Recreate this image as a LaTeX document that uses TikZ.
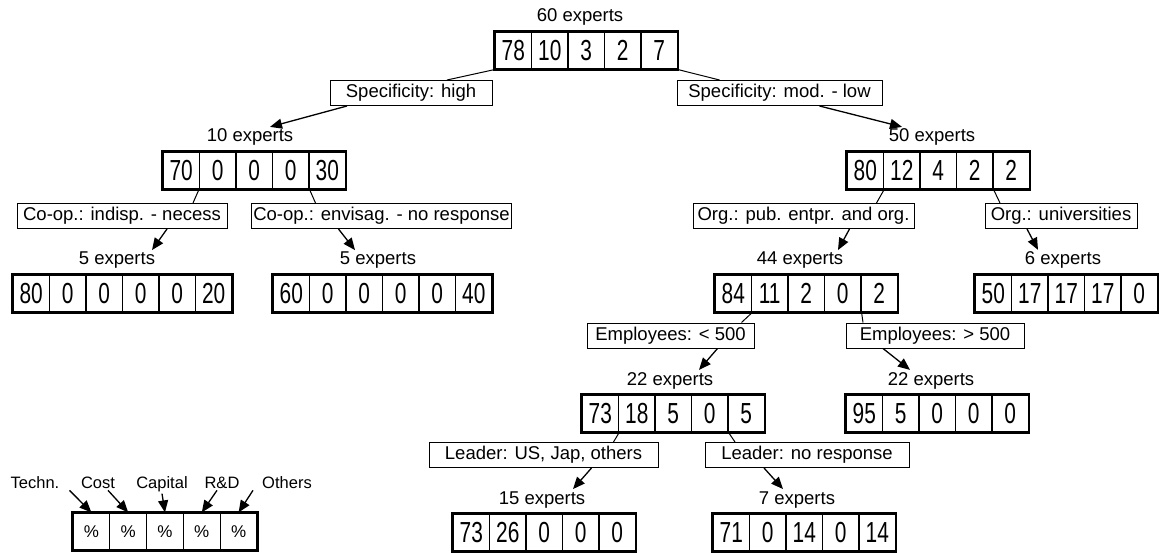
\documentclass[tikz,border=0pt]{standalone}
\usepackage{fontspec}
\setmainfont{Liberation Sans}
\usepackage{graphicx}
\usetikzlibrary{arrows.meta}

\newcommand\labfont{\fontsize{18.5}{20}\selectfont}
\newcommand\legfont{\fontsize{16.5}{18}\selectfont}
\newcommand\cellfont{\fontsize{29}{30}\selectfont}
\newcommand\cnum[1]{\scalebox{0.72}[1]{#1}}

\tikzset{
  pctcell/.style={draw, line width=1.2pt, minimum width=36.5pt, minimum height=37pt, inner sep=0pt, font=\cellfont},
  boxrim/.style={line width=2.4pt},
  headcount/.style={font=\labfont, anchor=base, inner sep=2pt},
  keylab/.style={font=\legfont, anchor=base, inner sep=2pt},
  critbox/.style={draw, line width=1pt, minimum height=25pt, inner sep=2pt, font=\labfont},
  stem/.style={line width=1pt},
  pointer/.style={line width=1.3pt, -{Triangle[length=12pt,width=10pt]}}
}

\begin{document}
\begin{tikzpicture}[x=1pt,y=-1pt]
\useasboundingbox (0,0) rectangle (1161,553);

% percentage boxes
\foreach \nm/\lx/\ty/\n/\vals in {b0/495/32/5/{78,10,3,2,7}, b1/163/152/5/{70,0,0,0,30},
    b2/847/152/5/{80,12,4,2,2}, b3/13/275/6/{80,0,0,0,0,20}, b4/273/275/6/{60,0,0,0,0,40},
    b5/715/275/5/{84,11,2,0,2}, b6/975/275/5/{50,17,17,17,0}, b7/582/395/5/{73,18,5,0,5},
    b8/846/395/5/{95,5,0,0,0}, b9/453/514/5/{73,26,0,0,0}, b10/713/514/5/{71,0,14,0,14}}{
  \foreach \v [count=\i] in \vals
    \node[pctcell] (\nm-\i) at ({\lx+36.5*\i-18.25},{\ty+18.5}) {\cnum{\v}};
  \draw[boxrim] (\nm-1.north west) rectangle (\nm-\n.south east);
}

% group sizes
\node[headcount] (c0) at (580,22) {60 experts};
\node[headcount] (c1) at (250,142) {10 experts};
\node[headcount] (c2) at (932,142) {50 experts};
\node[headcount] (c3) at (117,265) {5 experts};
\node[headcount] (c4) at (378,265) {5 experts};
\node[headcount] (c5) at (800,265) {44 experts};
\node[headcount] (c6) at (1063,265) {6 experts};
\node[headcount] (c7) at (670,385) {22 experts};
\node[headcount] (c8) at (931,385) {22 experts};
\node[headcount] (c9) at (542,504) {15 experts};
\node[headcount] (c10) at (797,504) {7 experts};

% split criteria
\node[critbox, minimum width=162pt] (spechigh) at (411,93) {Specificity: high};
\node[critbox, minimum width=205pt] (speclow) at (779.5,93) {Specificity: mod. - low};
\node[critbox, minimum width=210pt] (coopnec) at (122,216) {Co-op.: indisp. - necess};
\node[critbox, minimum width=259pt] (coopenv) at (381.5,216) {Co-op.: envisag. - no response};
\node[critbox, minimum width=221pt] (orgpub) at (803.5,216) {Org.: pub. entpr. and org.};
\node[critbox, minimum width=152pt] (orguni) at (1061,216) {Org.: universities};
\node[critbox, minimum width=167pt] (empsmall) at (670.5,335.5) {Employees: < 500};
\node[critbox, minimum width=178pt] (empbig) at (935,335.5) {Employees: > 500};
\node[critbox, minimum width=229pt] (leadyes) at (543.5,455) {Leader: US, Jap, others};
\node[critbox, minimum width=204pt] (leadno) at (807,455) {Leader: no response};

\draw[stem] (b0-1.south west) -- ([xshift=36pt]spechigh.north);
\draw[pointer] ([xshift=-64pt]spechigh.south) -- ([xshift=20pt]c1.north);
\draw[stem] (b0-5.south east) -- ([xshift=-60pt]speclow.north);
\draw[pointer] ([xshift=40pt]speclow.south) -- ([xshift=-30pt]c2.north);

\draw[stem] (b1-2.south west) -- ([xshift=71pt]coopnec.north);
\draw[pointer] ([xshift=45pt]coopnec.south) -- ([xshift=35pt]c3.north);
\draw[stem] (b1-4.south east) -- ([xshift=-66pt]coopenv.north);
\draw[pointer] ([xshift=-43pt]coopenv.south) -- ([xshift=-23pt]c4.north);

\draw[stem] (b2-1.south east) -- ([xshift=73pt]orgpub.north);
\draw[pointer] ([xshift=46pt]orgpub.south) -- ([xshift=38pt]c5.north);
\draw[stem] (b2-4.south east) -- ([xshift=-61pt]orguni.north);
\draw[pointer] ([xshift=-34pt]orguni.south) -- ([xshift=-25pt]c6.north);

\draw[stem] (b5-1.south east) -- ([xshift=71pt]empsmall.north);
\draw[pointer] ([xshift=47pt]empsmall.south) -- ([xshift=29pt]c7.north);
\draw[stem] (b5-4.south east) -- ([xshift=-72pt]empbig.north);
\draw[pointer] ([xshift=-52pt]empbig.south) -- ([xshift=-21pt]c8.north);

\draw[stem] (b7-1.south east) -- ([xshift=70pt]leadyes.north);
\draw[pointer] ([xshift=48pt]leadyes.south) -- ([xshift=31pt]c9.north);
\draw[stem] (b7-4.south east) -- ([xshift=-72pt]leadno.north);
\draw[pointer] ([xshift=-43pt]leadno.south) -- ([xshift=-14pt]c10.north);

% key
\foreach \i in {1,...,5}
  \node[pctcell, minimum width=36.8pt, font=\fontsize{17}{18}\selectfont] (key-\i) at ({73+36.8*\i-18.4},531.5) {\%};
\draw[boxrim] (key-1.north west) rectangle (key-5.south east);

\node[keylab] (techn) at (35,488) {Techn.};
\node[keylab] (cost) at (98,488) {Cost};
\node[keylab] (capital) at (162,488) {Capital};
\node[keylab] (rnd) at (222,488) {R\&D};
\node[keylab] (others) at (287,488) {Others};

\draw[pointer] ([xshift=8pt]techn.south east) -- (key-1.north);
\draw[pointer] ([xshift=10pt]cost.south) -- (key-2.north);
\draw[pointer] (capital.south) -- (key-3.north);
\draw[pointer] ([xshift=-5pt]rnd.south) -- (key-4.north);
\draw[pointer] ([xshift=-34pt]others.south) -- (key-5.north);
\end{tikzpicture}
\end{document}
